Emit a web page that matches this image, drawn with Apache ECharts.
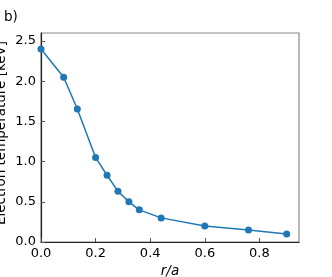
<!DOCTYPE html>
<html><head><meta charset="utf-8">
<script src="https://cdn.jsdelivr.net/npm/echarts@6/dist/echarts.min.js"></script>
<style>html,body{margin:0;padding:0;background:#fff}#c{width:332px;height:277px}</style>
</head><body><div id="c"></div>
<script>
const radius = [0.0, 0.083, 0.133, 0.2, 0.242, 0.282, 0.322, 0.36, 0.44, 0.6, 0.76, 0.9];
const electronTemp = [2.4, 2.05, 1.655, 1.05, 0.83, 0.63, 0.5, 0.4, 0.3, 0.2, 0.15, 0.1];
const panelLabel = 'b)';
const xTitle = 'r/a';
const yTitle = 'Electron temperature [keV]';

const font = 'DejaVu Sans';
const chart = echarts.init(document.getElementById('c'), null, {renderer: 'canvas'});
chart.setOption({
  animation: false,
  title: {text: panelLabel, left: -1, top: 5, textStyle: {fontFamily: font, fontSize: 13.5, fontWeight: 'normal', color: '#000'}},
  graphic: [{
    type: 'text', x: 1.5, y: 133, rotation: Math.PI / 2, z: 100,
    style: {text: yTitle, fontFamily: font, fontSize: 13.5, fill: '#000', align: 'center', verticalAlign: 'middle'}
  }],
  grid: {left: 41, top: 33, right: 33, bottom: 35, show: true, borderColor: '#888', borderWidth: 1.2,
    containLabel: false, outerBoundsMode: 'none'},
  xAxis: {
    type: 'value', min: 0, max: 0.945, interval: 0.2,
    name: xTitle, nameLocation: 'middle', nameGap: 21,
    nameTextStyle: {fontFamily: font, fontSize: 13.5, fontStyle: 'italic', color: '#000'},
    axisLine: {lineStyle: {color: '#222', width: 1.2}},
    axisTick: {inside: true, length: 4, lineStyle: {color: '#555'}},
    axisLabel: {fontFamily: font, fontSize: 13, color: '#000', margin: 5, showMaxLabel: false,
      formatter: v => v.toFixed(1)},
    splitLine: {show: false}
  },
  yAxis: {
    type: 'value', min: 0, max: 2.6, interval: 0.5,
    axisLine: {show: true, lineStyle: {color: '#222', width: 1.2}},
    axisTick: {show: true, inside: true, length: 4, lineStyle: {color: '#555'}},
    axisLabel: {fontFamily: font, fontSize: 13, color: '#000', margin: 5, showMaxLabel: false,
      formatter: v => v.toFixed(1)},
    splitLine: {show: false}
  },
  series: [{
    type: 'line',
    data: radius.map((r, i) => [r, electronTemp[i]]),
    symbol: 'circle', symbolSize: 7,
    lineStyle: {color: '#1f77b4', width: 1.5},
    itemStyle: {color: '#1f77b4'}
  }]
});
</script></body></html>
